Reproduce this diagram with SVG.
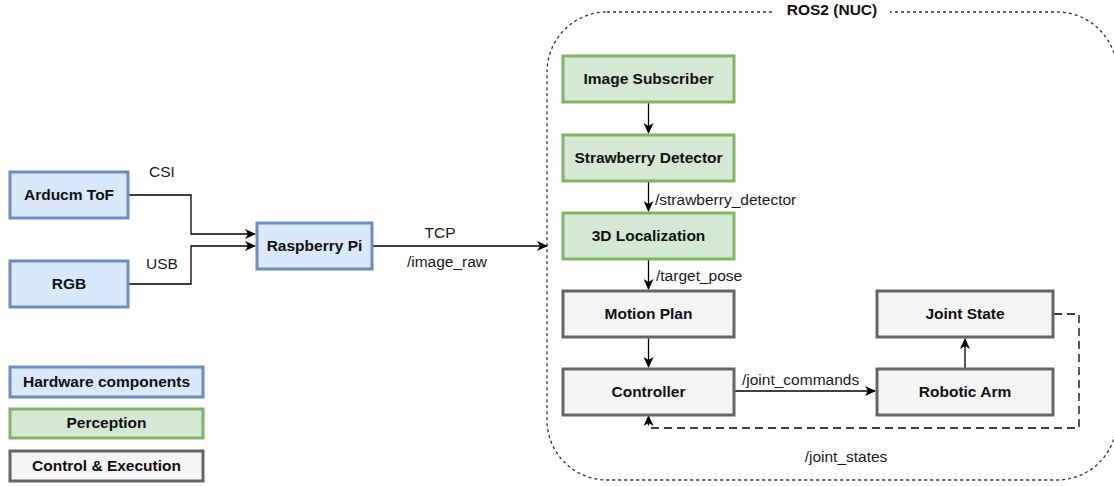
<svg xmlns="http://www.w3.org/2000/svg" width="1114" height="486" viewBox="0 0 1114 486">
<defs>
<style>
.t{font-family:"Liberation Sans",Arial,sans-serif;font-size:15.5px;font-weight:bold;fill:#111;text-anchor:middle;dominant-baseline:central}
.l{font-family:"Liberation Sans",Arial,sans-serif;font-size:15.5px;fill:#1a1a1a;dominant-baseline:central}
.hw{fill:#dae8fc;stroke:#6c8ebf;stroke-width:3}
.pc{fill:#d5e8d4;stroke:#82b366;stroke-width:3}
.ce{fill:#f5f5f5;stroke:#666666;stroke-width:3}
.e{fill:none;stroke:#000;stroke-width:1.3;marker-end:url(#ah)}
</style>
<marker id="ah" markerWidth="12" markerHeight="10" refX="10" refY="5" orient="auto" markerUnits="userSpaceOnUse">
<path d="M0,0 L11,5 L0,10 L3,5 Z" fill="#000"/>
</marker>
</defs>
<rect width="1114" height="486" fill="#fff"/>
<g id="ros2-container">
<rect x="547" y="12" width="570" height="468" rx="60" ry="60" fill="none" stroke="#333" stroke-width="1.3" stroke-dasharray="3 3"/>
<rect x="774" y="2" width="116" height="20" fill="#fff"/>
<text class="t" x="832" y="9">ROS2 (NUC)</text>
</g>
<g id="connectors">
<path class="e" d="M128,195 H191 V234 H255"/>
<path class="e" d="M128,284 H191 V246 H255"/>
<path class="e" d="M372,246 H547"/>
<path class="e" d="M648.5,103 V133"/>
<path class="e" d="M648.5,182 V211"/>
<path class="e" d="M648.5,260 V289"/>
<path class="e" d="M648.5,338 V367"/>
<path class="e" d="M735,391 H875"/>
<path class="e" d="M965,368 V339"/>
<path d="M1054,314 H1079 V428 H648.5 V421" fill="none" stroke="#000" stroke-width="1.3" stroke-dasharray="8 5"/>
<path class="e" d="M648.5,424 V416"/>
<text class="l" x="162" y="171" text-anchor="middle">CSI</text>
<text class="l" x="162" y="263" text-anchor="middle">USB</text>
<text class="l" x="440" y="232" text-anchor="middle">TCP</text>
<text class="l" x="447" y="261" text-anchor="middle">/image_raw</text>
<text class="l" x="655" y="199">/strawberry_detector</text>
<text class="l" x="656" y="275">/target_pose</text>
<text class="l" x="742" y="379">/joint_commands</text>
<text class="l" x="846" y="456" text-anchor="middle">/joint_states</text>
</g>
<g id="arducm-tof"><rect class="hw" x="10" y="172" width="118" height="46"/><text class="t" x="69" y="194">Arducm ToF</text></g>
<g id="rgb"><rect class="hw" x="10" y="261" width="118" height="46"/><text class="t" x="69" y="283">RGB</text></g>
<g id="raspberry-pi"><rect class="hw" x="257" y="223" width="115" height="46"/><text class="t" x="314.5" y="245">Raspberry Pi</text></g>
<g id="image-subscriber"><rect class="pc" x="563" y="56" width="171" height="46"/><text class="t" x="648.5" y="78">Image Subscriber</text></g>
<g id="strawberry-detector"><rect class="pc" x="563" y="135" width="171" height="46"/><text class="t" x="648.5" y="157">Strawberry Detector</text></g>
<g id="localization-3d"><rect class="pc" x="563" y="213" width="171" height="46"/><text class="t" x="648.5" y="235">3D Localization</text></g>
<g id="motion-plan"><rect class="ce" x="563" y="291" width="171" height="46"/><text class="t" x="648.5" y="313">Motion Plan</text></g>
<g id="controller"><rect class="ce" x="563" y="369" width="171" height="46"/><text class="t" x="648.5" y="391">Controller</text></g>
<g id="joint-state"><rect class="ce" x="877" y="291" width="176" height="46"/><text class="t" x="965" y="313">Joint State</text></g>
<g id="robotic-arm"><rect class="ce" x="877" y="369" width="176" height="46"/><text class="t" x="965" y="391">Robotic Arm</text></g>
<g id="legend-hardware"><rect class="hw" x="10" y="367" width="193" height="30"/><text class="t" x="106.5" y="381">Hardware components</text></g>
<g id="legend-perception"><rect class="pc" x="10" y="409" width="193" height="29"/><text class="t" x="106.5" y="422.5">Perception</text></g>
<g id="legend-control"><rect class="ce" x="10" y="451" width="193" height="30"/><text class="t" x="106.5" y="465">Control &amp; Execution</text></g>
</svg>
